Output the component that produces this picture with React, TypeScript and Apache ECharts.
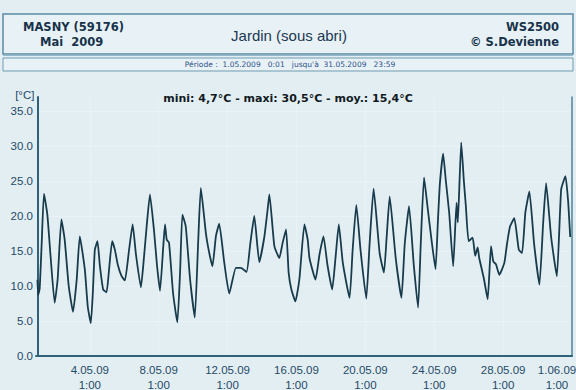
import React, { useEffect, useRef } from "react";
import * as echarts from "echarts";

// hours since 1.05.2009 00:00
const hours = [
  0, 1.0, 3.1, 5.9, 9.1, 13.8, 18.5, 24.0, 28.2, 33.4, 38.0, 43.6, 49.6, 54.8, 59.0, 66.0, 70.2, 74.4, 77.2, 80.0,
  83.7, 86.9, 91.6, 96.3, 99.5, 104.1, 107.9, 112.1, 117.3, 121.9, 127.5, 132.7, 137.3, 144.2, 148.4, 152.2, 156.8, 162.4, 166.6, 170.8,
  175.4, 177.8, 180.2, 183.4, 189.0, 195.0, 198.8, 202.0, 206.7, 212.7, 219.3, 223.9, 227.7, 234.7, 239.3, 243.9, 248.7, 253.3, 260.3, 267.3,
  276.6, 283.6, 291.4, 296.6, 302.2, 309.2, 316.2, 320.8, 323.2, 330.2, 337.1, 341.8, 346.5, 350.1, 353.9, 359.5, 365.1, 372.1, 376.7, 379.1,
  387.5, 393.1, 398.6, 404.2, 410.8, 415.4, 420.0, 425.6, 435.0, 439.2, 444.4, 450.4, 458.3, 462.9, 468.5, 476.9, 482.9, 486.7, 490.9, 499.3,
  507.3, 511.9, 517.9, 524.5, 530.5, 534.2, 538.8, 544.0, 549.2, 554.8, 558.0, 560.8, 565.4, 569.2, 573.8, 579.4, 584.1, 585.9, 590.6, 594.3,
  597.1, 600.9, 606.5, 610.1, 613.5, 615.7, 622.3, 627.5, 632.1, 635.3, 639.1, 643.7, 650.7, 654.4, 658.6, 664.6, 670.8, 675.4, 680.0, 685.6,
  692.2, 699.6, 704.8, 708.9, 715.9, 723.9, 729.9, 735.9, 739.7, 742.5,
];

const temps = [
  10.9, 8.7, 9.6, 16.0, 23.2, 20.2, 14.0, 7.6, 11.0, 19.5, 16.6, 10.0, 6.3, 11.0, 17.1, 12.4, 7.0, 4.7, 9.0, 15.2,
  16.4, 13.0, 9.5, 9.1, 12.0, 16.4, 15.2, 13.0, 11.4, 10.8, 15.0, 18.8, 14.5, 9.8, 14.0, 18.5, 23.1, 18.0, 13.0, 9.3,
  15.7, 18.8, 16.6, 16.2, 9.0, 4.8, 12.0, 20.2, 18.5, 11.0, 5.5, 16.0, 24.0, 17.6, 14.8, 12.8, 17.1, 18.9, 13.4, 8.9,
  12.6, 12.6, 12.0, 16.0, 20.0, 13.4, 17.0, 20.9, 23.1, 15.7, 14.0, 16.2, 18.1, 11.9, 9.5, 7.8, 11.0, 18.8, 16.6, 14.0,
  10.9, 14.5, 17.1, 13.0, 9.5, 14.0, 18.8, 13.3, 8.3, 15.0, 21.6, 15.0, 8.2, 16.0, 23.9, 14.7, 11.9, 17.0, 22.8, 14.0,
  8.3, 16.0, 21.4, 13.0, 6.9, 16.0, 25.5, 21.0, 16.6, 12.4, 19.0, 24.5, 28.9, 25.0, 20.5, 12.8, 21.9, 19.1, 30.5, 25.0,
  21.4, 16.4, 16.9, 14.3, 15.5, 14.0, 11.0, 8.1, 15.7, 13.5, 13.1, 11.6, 13.3, 16.0, 18.5, 19.7, 15.2, 14.7, 20.5, 23.5,
  16.0, 10.2, 19.0, 24.7, 17.0, 11.4, 23.8, 25.7, 22.0, 17.0,
];

const yTickValues = [0, 5, 10, 15, 20, 25, 30, 35];
const xTickHours = [73, 169, 265, 361, 457, 553, 649, 745];
const xTickDates = ["4.05.09", "8.05.09", "12.05.09", "16.05.09", "20.05.09", "24.05.09", "28.05.09", "1.06.09"];
const xTickTime = "1:00";

const station = "MASNY (59176)";
const monthLabel = "Mai  2009";
const sensorTitle = "Jardin (sous abri)";
const device = "WS2500";
const author = "© S.Devienne";
const periodText = "Période :  1.05.2009   0:01   jusqu'à  31.05.2009   23:59";
const statMini = "4,7";
const statMaxi = "30,5";
const statMoy = "15,4";

const BG = "#e3eef3";
const AXIS = "#2f6278";
const LABEL = "#1f4a66";

export default function App() {
  const ref = useRef<HTMLDivElement>(null);

  useEffect(() => {
    if (!ref.current) return;
    const chart = echarts.init(ref.current, undefined, { renderer: "svg" });
    const lastIdx = xTickHours.length - 1;
    chart.setOption({
      animation: false,
      backgroundColor: BG,
      title: {
        text: `mini: ${statMini}°C - maxi: ${statMaxi}°C - moy.: ${statMoy}°C`,
        left: "center",
        top: 88,
        textStyle: { fontFamily: "DejaVu Sans", fontWeight: "bold", fontSize: 11, color: "#111a22" },
      },
      grid: { left: 36, right: 4, top: 97, bottom: 34, containLabel: false, outerBoundsMode: "none" },
      xAxis: {
        type: "value",
        min: -2,
        max: 745,
        axisLine: { show: true, lineStyle: { color: AXIS, width: 2 } },
        axisTick: { show: false, customValues: xTickHours },
        splitLine: { show: true, lineStyle: { color: "#e9f2f6", width: 1 } },
        axisLabel: {
          customValues: xTickHours,
          margin: 6,
          fontFamily: "Liberation Sans",
          fontSize: 11.5,
          lineHeight: 15,
          color: LABEL,
          formatter: (v: number) => {
            const i = xTickHours.indexOf(v);
            if (i < 0) return "";
            if (i === lastIdx) return `{p|${xTickDates[i]}}\n{p|${xTickTime}}`;
            return `${xTickDates[i]}\n${xTickTime}`;
          },
          rich: {
            p: { padding: [0, 30, 0, 0], fontFamily: "Liberation Sans", fontSize: 11.5, lineHeight: 15, color: LABEL },
          },
        },
      },
      yAxis: [
        {
          type: "value",
          min: 0,
          max: 37,
          name: "[°C]",
          nameLocation: "end",
          nameGap: 2,
          nameTextStyle: { align: "right", verticalAlign: "middle", fontFamily: "Liberation Sans", fontSize: 11.5, color: LABEL, padding: [0, 3, 0, 0] },
          axisLine: { show: true, lineStyle: { color: AXIS, width: 2 } },
          axisTick: { show: false, customValues: yTickValues },
          splitLine: { show: true, lineStyle: { color: "#e9f2f6", width: 1 } },
          axisLabel: {
            customValues: yTickValues,
            margin: 3,
            fontFamily: "Liberation Sans",
            fontSize: 11.5,
            color: LABEL,
            formatter: (v: number) => v.toFixed(1),
          },
        },
        {
          type: "value",
          position: "right",
          min: 0,
          max: 37,
          axisLine: { show: true, lineStyle: { color: "#4f8199", width: 1.5 } },
          axisTick: { show: false },
          axisLabel: { show: false },
          splitLine: { show: false },
        },
      ],
      series: [
        {
          type: "line",
          data: hours.map((h, i) => [h, temps[i]]),
          showSymbol: false,
          lineStyle: { color: "#183b4c", width: 1.8 },
          smooth: 0.15,
        },
      ],
      graphic: [
        { type: "rect", shape: { x: 3, y: 14, width: 570, height: 40 }, style: { fill: "#e8f2f6", stroke: "#5a8ca3", lineWidth: 1.5 } },
        { type: "line", shape: { x1: 3, y1: 55, x2: 573, y2: 55 }, style: { stroke: "#7fa9bb", lineWidth: 1.5 } },
        { type: "rect", shape: { x: 3, y: 58, width: 570, height: 13 }, style: { fill: "#e8f2f6", stroke: "#6e9bb0", lineWidth: 1 } },
        { type: "text", x: 23, y: 27, style: { text: station, fontFamily: "DejaVu Sans", fontWeight: "bold", fontSize: 11.5, fill: "#17324a", verticalAlign: "middle" } },
        { type: "text", x: 40, y: 42, style: { text: monthLabel, fontFamily: "DejaVu Sans", fontWeight: "bold", fontSize: 11.5, fill: "#17324a", verticalAlign: "middle" } },
        { type: "text", x: 289, y: 35, style: { text: sensorTitle, fontFamily: "Liberation Sans", fontSize: 15, fill: "#1b3850", align: "center", verticalAlign: "middle" } },
        { type: "text", x: 559, y: 27, style: { text: device, fontFamily: "DejaVu Sans", fontWeight: "bold", fontSize: 11.5, fill: "#17324a", align: "right", verticalAlign: "middle" } },
        { type: "text", x: 559, y: 42, style: { text: author, fontFamily: "DejaVu Sans", fontWeight: "bold", fontSize: 11.5, fill: "#17324a", align: "right", verticalAlign: "middle" } },
        { type: "text", x: 290, y: 64.5, style: { text: periodText, fontFamily: "DejaVu Sans", fontSize: 7.5, fill: "#2c4f88", align: "center", verticalAlign: "middle" } },
      ],
    });
    return () => chart.dispose();
  }, []);

  return (
    <div style={{ position: "absolute", left: 0, top: 0, width: 576, height: 390, background: BG }}>
      <div ref={ref} style={{ width: 576, height: 390 }} />
    </div>
  );
}
